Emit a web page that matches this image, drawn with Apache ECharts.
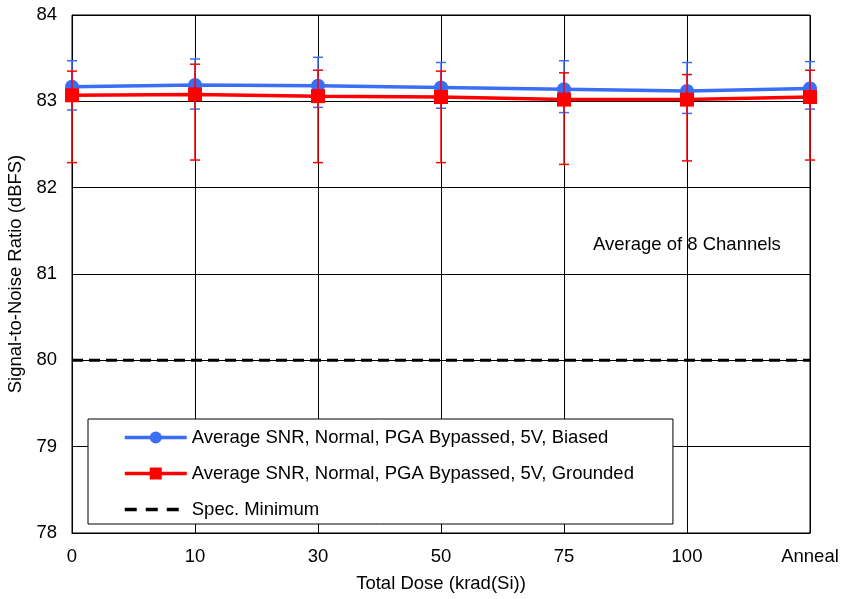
<!DOCTYPE html>
<html><head><meta charset="utf-8">
<script src="https://cdn.jsdelivr.net/npm/echarts@6/dist/echarts.min.js"></script>
<style>html,body{margin:0;padding:0;background:#fff}#c{width:841px;height:599px}</style>
</head><body><div id="c"></div>
<script>
const categories = ['0','10','30','50','75','100','Anneal'];
const biasedMean = [83.17, 83.19, 83.18, 83.16, 83.14, 83.12, 83.15];
const biasedHigh = [83.47, 83.49, 83.51, 83.45, 83.47, 83.45, 83.46];
const biasedLow  = [82.90, 82.91, 82.93, 82.92, 82.87, 82.86, 82.91];
const groundedMean = [83.07, 83.08, 83.06, 83.05, 83.02, 83.02, 83.05];
const groundedHigh = [83.35, 83.43, 83.36, 83.35, 83.33, 83.31, 83.36];
const groundedLow  = [82.29, 82.32, 82.29, 82.29, 82.27, 82.31, 82.32];
const specMin = [80, 80, 80, 80, 80, 80, 80];
const yTicks = [78, 79, 80, 81, 82, 83, 84];

const FONT = 'Liberation Sans, Arial, sans-serif';
const FS = 18.5;
const BLUE = '#3a6ef5', RED = '#ff0000';

function errData(low, high){ return low.map((l,i)=>[i,l,high[i]]); }
function errRender(color){
  return function(params, api){
    const x = api.value(0);
    const lo = api.coord([x, api.value(1)]);
    const hi = api.coord([x, api.value(2)]);
    const w = 5;
    const st = {stroke: color, lineWidth: 1.5};
    return {type:'group', children:[
      {type:'line', shape:{x1:lo[0],y1:lo[1],x2:hi[0],y2:hi[1]}, style:st},
      {type:'line', shape:{x1:lo[0]-w,y1:lo[1],x2:lo[0]+w,y2:lo[1]}, style:st},
      {type:'line', shape:{x1:hi[0]-w,y1:hi[1],x2:hi[0]+w,y2:hi[1]}, style:st}
    ]};
  };
}

const chart = echarts.init(document.getElementById('c'), null, {renderer:'canvas'});
chart.setOption({
  animation:false,
  backgroundColor:'#fff',
  grid:{left:72, right:31, top:15, bottom:66, outerBoundsMode:'none', containLabel:false,
    show:true, borderColor:'#000', borderWidth:1},
  xAxis:{type:'category', data:categories, boundaryGap:false,
    name:'Total Dose (krad(Si))', nameLocation:'middle', nameGap:41,
    nameTextStyle:{fontFamily:FONT, fontSize:FS, color:'#000'},
    axisLine:{lineStyle:{color:'#000', width:1}}, axisTick:{show:false},
    axisLabel:{fontFamily:FONT, fontSize:FS, color:'#000', margin:14},
    splitLine:{show:true, lineStyle:{color:'#000', width:1}}},
  yAxis:{type:'value', min:78, max:84, interval:1,
    name:'Signal-to-Noise Ratio (dBFS)', nameLocation:'middle', nameGap:46,
    nameTextStyle:{fontFamily:FONT, fontSize:FS, color:'#000'},
    axisLine:{show:true, lineStyle:{color:'#000', width:1}}, axisTick:{show:false},
    axisLabel:{fontFamily:FONT, fontSize:FS, color:'#000', margin:15,
      formatter:v=>yTicks.includes(v)?String(v):''},
    splitLine:{show:true, lineStyle:{color:'#000', width:1}}},
  legend:{orient:'vertical', left:88, top:419, itemWidth:62, itemHeight:15, itemGap:17,
    padding:[9,39,5,35], borderColor:'#000', borderWidth:1, backgroundColor:'#fff',
    textStyle:{fontFamily:FONT, fontSize:FS, color:'#000'},
    data:[
      {name:'Average SNR, Normal, PGA Bypassed, 5V, Biased', lineStyle:{width:3.5}},
      {name:'Average SNR, Normal, PGA Bypassed, 5V, Grounded', lineStyle:{width:3.5}},
      {name:'Spec. Minimum', itemStyle:{color:'rgba(0,0,0,0)', borderWidth:0},
        lineStyle:{color:'#000', width:3.5, type:[12,9]}}
    ]},
  graphic:[{type:'text', left:593, top:235, style:{text:'Average of 8 Channels', font:FS+'px '+FONT, fill:'#000'}}],
  series:[
    {name:'Spec. Minimum', type:'line', data:specMin, symbol:'none',
      lineStyle:{color:'#000', width:3, type:[11,6]}, itemStyle:{color:'#000'}, z:3},
    {name:'Average SNR, Normal, PGA Bypassed, 5V, Biased', type:'line', data:biasedMean,
      symbol:'circle', symbolSize:14, lineStyle:{color:BLUE, width:3.5}, itemStyle:{color:BLUE}, z:4},
    {name:'bErr', type:'custom', data:errData(biasedLow,biasedHigh), renderItem:errRender(BLUE),
      encode:{x:0,y:[1,2]}, z:5},
    {name:'Average SNR, Normal, PGA Bypassed, 5V, Grounded', type:'line', data:groundedMean,
      symbol:'rect', symbolSize:14, lineStyle:{color:RED, width:3.5}, itemStyle:{color:RED}, z:6},
    {name:'gErr', type:'custom', data:errData(groundedLow,groundedHigh), renderItem:errRender(RED),
      encode:{x:0,y:[1,2]}, z:7}
  ]
});
</script></body></html>
